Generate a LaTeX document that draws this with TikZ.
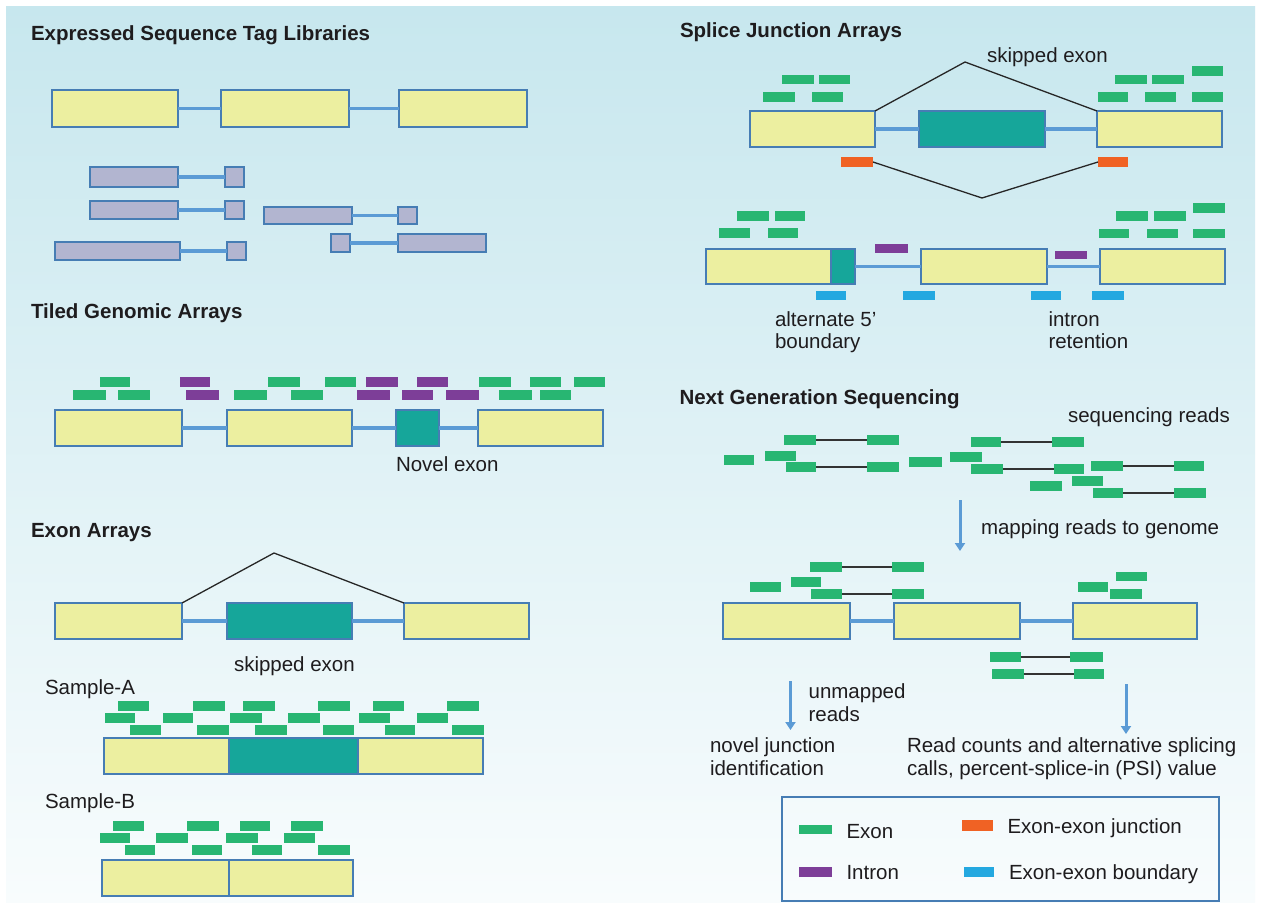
\documentclass[tikz,border=0pt]{standalone}
\usepackage{fontspec}
\setmainfont{Liberation Sans}
\usetikzlibrary{arrows.meta}
\definecolor{bgtop}{RGB}{199,231,238}
\definecolor{bgbot}{RGB}{248,252,253}
\definecolor{yel}{RGB}{236,239,160}
\definecolor{bord}{RGB}{70,125,180}
\definecolor{intr}{RGB}{91,155,213}
\definecolor{tealc}{RGB}{22,166,154}
\definecolor{grn}{RGB}{40,182,114}
\definecolor{pur}{RGB}{125,62,152}
\definecolor{org}{RGB}{240,98,36}
\definecolor{lblue}{RGB}{36,168,224}
\definecolor{lav}{RGB}{178,181,208}
\definecolor{txt}{RGB}{30,28,30}
\tikzset{
 every node/.style={inner sep=0pt, outer sep=0pt},
 exonY/.style={draw=bord, fill=yel, line width=2pt},
 exonT/.style={draw=bord, fill=tealc, line width=2pt},
 est/.style={draw=bord, fill=lav, line width=2pt},
 legbox/.style={draw=bord, line width=2pt},
 gr/.style={fill=grn},
 pu/.style={fill=pur},
 ora/.style={fill=org},
 lb/.style={fill=lblue},
 intron/.style={draw=intr, line width=3.5pt},
 skip/.style={draw=black!85, line width=1.3pt},
 pairline/.style={draw=black!80, line width=1.5pt},
 flow/.style={draw=intr, line width=3pt, -{Triangle[length=8pt,width=10pt]}},
 lbl/.style={anchor=base west, text=txt, font=\fontsize{20.5}{23}\selectfont},
 ttl/.style={anchor=base west, text=txt, font=\fontsize{20.5}{23}\selectfont\bfseries},
}
\newcommand\rb[6]{\node[#1,anchor=north west,minimum width={#5-#3},minimum height={#6-#4}] (#2) at (#3,#4) {};}
\begin{document}
\begin{tikzpicture}[x=1pt,y=-1pt]
\useasboundingbox (0,0) rectangle (1263,902);
\fill[white] (0,0) rectangle (1263,902);
\shade[top color=bgtop,bottom color=bgbot] (6,6) rectangle (1255,902);

% ---------- Expressed Sequence Tag Libraries
\node[ttl] (tEST) at (31,40.5) {Expressed Sequence Tag Libraries};
\rb{exonY}{e1}{52}{90}{178}{127}
\rb{exonY}{e2}{221}{90}{349}{127}
\rb{exonY}{e3}{399}{90}{527}{127}
\draw[intron] (e1.east) -- (e2.west);
\draw[intron] (e2.east) -- (e3.west);
\rb{est}{la1}{90}{167}{178}{187}
\rb{est}{la2}{225}{167}{244}{187}
\rb{est}{lb1}{90}{201}{178}{219}
\rb{est}{lb2}{225}{201}{244}{219}
\rb{est}{lc1}{264}{207}{352}{224}
\rb{est}{lc2}{398}{207}{417}{224}
\rb{est}{ld1}{55}{242}{180}{260}
\rb{est}{ld2}{227}{242}{246}{260}
\rb{est}{le1}{331}{234}{350}{252}
\rb{est}{le2}{398}{234}{486}{252}
\draw[intron] (la1.east) -- (la2.west);
\draw[intron] (lb1.east) -- (lb2.west);
\draw[intron] (lc1.east) -- (lc2.west);
\draw[intron] (ld1.east) -- (ld2.west);
\draw[intron] (le1.east) -- (le2.west);

% ---------- Tiled Genomic Arrays
\node[ttl] (tTGA) at (31,318.7) {Tiled Genomic Arrays};
\rb{gr}{ta1}{100}{377}{130}{387}
\rb{pu}{ta2}{180}{377}{210}{387}
\rb{gr}{ta3}{268}{377}{300}{387}
\rb{gr}{ta4}{325}{377}{356}{387}
\rb{pu}{ta5}{366}{377}{398}{387}
\rb{pu}{ta6}{417}{377}{448}{387}
\rb{gr}{ta7}{479}{377}{511}{387}
\rb{gr}{ta8}{530}{377}{561}{387}
\rb{gr}{ta9}{574}{377}{605}{387}
\rb{gr}{tb1}{73}{390}{106}{400}
\rb{gr}{tb2}{118}{390}{150}{400}
\rb{pu}{tb3}{186}{390}{219}{400}
\rb{gr}{tb4}{234}{390}{267}{400}
\rb{gr}{tb5}{291}{390}{323}{400}
\rb{pu}{tb6}{357}{390}{390}{400}
\rb{pu}{tb7}{402}{390}{433}{400}
\rb{pu}{tb8}{446}{390}{479}{400}
\rb{gr}{tb9}{499}{390}{532}{400}
\rb{gr}{tb10}{540}{390}{571}{400}
\rb{exonY}{t1}{55}{410}{182}{446}
\rb{exonY}{t2}{227}{410}{352}{446}
\rb{exonT}{t3}{396}{410}{439}{446}
\rb{exonY}{t4}{478}{410}{603}{446}
\draw[intron] (t1.east) -- (t2.west);
\draw[intron] (t2.east) -- (t3.west);
\draw[intron] (t3.east) -- (t4.west);
\node[lbl] (novel) at (396,471) {Novel exon};

% ---------- Exon Arrays
\node[ttl] (tEA) at (31,537) {Exon Arrays};
\rb{exonY}{x1}{55}{603}{182}{639}
\rb{exonT}{x2}{227}{603}{352}{639}
\rb{exonY}{x3}{404}{603}{529}{639}
\draw[intron] (x1.east) -- (x2.west);
\draw[intron] (x2.east) -- (x3.west);
\coordinate (xpk) at (274,553);
\draw[skip] (x1.north east) -- (xpk) -- (x3.north west);
\node[lbl] (skipA) at (234,671) {skipped exon};
\node[lbl] (sampA) at (45,694.5) {Sample-A};
\rb{gr}{sa1}{118}{701}{149}{711}
\rb{gr}{sa2}{193}{701}{225}{711}
\rb{gr}{sa3}{243}{701}{275}{711}
\rb{gr}{sa4}{318}{701}{350}{711}
\rb{gr}{sa5}{373}{701}{404}{711}
\rb{gr}{sa6}{447}{701}{479}{711}
\rb{gr}{sb1}{105}{713}{135}{723}
\rb{gr}{sb2}{163}{713}{193}{723}
\rb{gr}{sb3}{230}{713}{262}{723}
\rb{gr}{sb4}{288}{713}{320}{723}
\rb{gr}{sb5}{359}{713}{390}{723}
\rb{gr}{sb6}{417}{713}{448}{723}
\rb{gr}{sc1}{130}{725}{161}{735}
\rb{gr}{sc2}{197}{725}{229}{735}
\rb{gr}{sc3}{255}{725}{287}{735}
\rb{gr}{sc4}{323}{725}{354}{735}
\rb{gr}{sc5}{385}{725}{415}{735}
\rb{gr}{sc6}{452}{725}{484}{735}
\rb{exonY}{ya1}{104}{738}{229}{774}
\rb{exonT}{ya2}{229}{738}{358}{774}
\rb{exonY}{ya3}{358}{738}{483}{774}
\node[lbl] (sampB) at (45,808.5) {Sample-B};
\rb{gr}{ua1}{113}{821}{144}{831}
\rb{gr}{ua2}{187}{821}{219}{831}
\rb{gr}{ua3}{240}{821}{270}{831}
\rb{gr}{ua4}{291}{821}{323}{831}
\rb{gr}{ub1}{100}{833}{130}{843}
\rb{gr}{ub2}{156}{833}{188}{843}
\rb{gr}{ub3}{226}{833}{258}{843}
\rb{gr}{ub4}{284}{833}{315}{843}
\rb{gr}{uc1}{125}{845}{155}{855}
\rb{gr}{uc2}{192}{845}{222}{855}
\rb{gr}{uc3}{252}{845}{282}{855}
\rb{gr}{uc4}{318}{845}{350}{855}
\rb{exonY}{yb1}{102}{860}{229}{896}
\rb{exonY}{yb2}{229}{860}{353}{896}

% ---------- Splice Junction Arrays
\node[ttl] (tSJA) at (680,37.7) {Splice Junction Arrays};
\node[lbl] (skipS) at (987,62.5) {skipped exon};
\rb{gr}{pa1}{782}{75}{814}{84}
\rb{gr}{pa2}{819}{75}{850}{84}
\rb{gr}{pa3}{763}{92}{795}{102}
\rb{gr}{pa4}{812}{92}{843}{102}
\rb{gr}{pa5}{1192}{66}{1223}{76}
\rb{gr}{pa6}{1115}{75}{1147}{84}
\rb{gr}{pa7}{1152}{75}{1184}{84}
\rb{gr}{pa8}{1098}{92}{1128}{102}
\rb{gr}{pa9}{1145}{92}{1176}{102}
\rb{gr}{pa10}{1192}{92}{1223}{102}
\rb{exonY}{s1}{750}{111}{875}{147}
\rb{exonT}{s2}{919}{111}{1045}{147}
\rb{exonY}{s3}{1097}{111}{1222}{147}
\draw[intron] (s1.east) -- (s2.west);
\draw[intron] (s2.east) -- (s3.west);
\coordinate (spk) at (965,62);
\draw[skip] (s1.north east) -- (spk) -- (s3.north west);
\rb{ora}{o1}{841}{157}{873}{167}
\rb{ora}{o2}{1098}{157}{1128}{167}
\coordinate (sval) at (982,198);
\draw[skip] (o1.east) -- (sval) -- (o2.west);
\rb{gr}{pb1}{737}{211}{769}{221}
\rb{gr}{pb2}{775}{211}{805}{221}
\rb{gr}{pb3}{719}{228}{750}{238}
\rb{gr}{pb4}{768}{228}{798}{238}
\rb{gr}{pb5}{1193}{203}{1225}{213}
\rb{gr}{pb6}{1116}{211}{1148}{221}
\rb{gr}{pb7}{1154}{211}{1186}{221}
\rb{gr}{pb8}{1099}{229}{1129}{238}
\rb{gr}{pb9}{1147}{229}{1178}{238}
\rb{gr}{pb10}{1193}{229}{1225}{238}
\rb{exonY}{r1}{706}{249}{831}{284}
\rb{exonT}{r2}{831}{249}{855}{284}
\rb{exonY}{r3}{921}{249}{1047}{284}
\rb{exonY}{r4}{1100}{249}{1225}{284}
\draw[intron] (r2.east) -- (r3.west);
\draw[intron] (r3.east) -- (r4.west);
\rb{pu}{pi1}{875}{244}{908}{253}
\rb{pu}{pi2}{1055}{251}{1087}{259}
\rb{lb}{bd1}{816}{291}{846}{300}
\rb{lb}{bd2}{903}{291}{935}{300}
\rb{lb}{bd3}{1031}{291}{1061}{300}
\rb{lb}{bd4}{1092}{291}{1124}{300}
\node[lbl] (alt1) at (775,326) {alternate 5'};
\node[lbl] (alt2) at (775,348.5) {boundary};
\node[lbl] (ir1) at (1048.5,326) {intron};
\node[lbl] (ir2) at (1048.5,348.5) {retention};

% ---------- Next Generation Sequencing
\node[ttl] (tNGS) at (679.5,404) {Next Generation Sequencing};
\node[lbl] (seqr) at (1068,422) {sequencing reads};
\rb{gr}{q1}{783.5}{435}{816}{445}
\rb{gr}{q2}{866.6}{435}{898.6}{445}
\rb{gr}{q3}{971}{437}{1001}{447}
\rb{gr}{q4}{1052}{437}{1084}{447}
\rb{gr}{q5}{723.7}{455}{754}{465}
\rb{gr}{q6}{764.6}{451}{795.5}{461}
\rb{gr}{q7}{909.4}{457}{941.5}{467}
\rb{gr}{q8}{950}{452}{982.4}{462}
\rb{gr}{q9}{785.5}{462}{816.4}{472}
\rb{gr}{q10}{866.6}{462}{898.6}{472}
\rb{gr}{q11}{971}{464}{1003}{474}
\rb{gr}{q12}{1054}{464}{1084}{474}
\rb{gr}{q13}{1091}{461}{1123}{471}
\rb{gr}{q14}{1173.5}{461}{1203.6}{471}
\rb{gr}{q15}{1029.5}{481}{1061.5}{491}
\rb{gr}{q16}{1072}{476}{1103}{486}
\rb{gr}{q17}{1093}{488}{1123}{498}
\rb{gr}{q18}{1173.5}{488}{1206}{498}
\draw[pairline] (q1.east) -- (q2.west);
\draw[pairline] (q3.east) -- (q4.west);
\draw[pairline] (q9.east) -- (q10.west);
\draw[pairline] (q11.east) -- (q12.west);
\draw[pairline] (q13.east) -- (q14.west);
\draw[pairline] (q17.east) -- (q18.west);
\coordinate (f1s) at (960,500);
\coordinate (f1e) at (960,551);
\draw[flow] (f1s) -- (f1e);
\node[lbl] (mapg) at (981,534) {mapping reads to genome};
\rb{gr}{m1}{810}{562}{842}{572}
\rb{gr}{m2}{892}{562}{924}{572}
\rb{gr}{m3}{750}{582}{780.5}{592}
\rb{gr}{m4}{791}{577}{821.4}{587}
\rb{gr}{m5}{811}{589}{842}{599}
\rb{gr}{m6}{892}{589}{924}{599}
\rb{gr}{m7}{1115.6}{572}{1147}{581}
\rb{gr}{m8}{1078}{582}{1108}{592}
\rb{gr}{m9}{1110}{589}{1142}{599}
\draw[pairline] (m1.east) -- (m2.west);
\draw[pairline] (m5.east) -- (m6.west);
\rb{exonY}{n1}{722.5}{603}{850}{639}
\rb{exonY}{n2}{894}{603}{1020}{639}
\rb{exonY}{n3}{1072.5}{603}{1197}{639}
\draw[intron] (n1.east) -- (n2.west);
\draw[intron] (n2.east) -- (n3.west);
\rb{gr}{w1}{990}{652}{1020.6}{662}
\rb{gr}{w2}{1070}{652}{1102.5}{662}
\rb{gr}{w3}{992}{669}{1023.7}{679}
\rb{gr}{w4}{1074}{669}{1104.4}{679}
\draw[pairline] (w1.east) -- (w2.west);
\draw[pairline] (w3.east) -- (w4.west);
\coordinate (f2s) at (790.5,681);
\coordinate (f2e) at (790.5,730);
\draw[flow] (f2s) -- (f2e);
\coordinate (f3s) at (1126,684);
\coordinate (f3e) at (1126,734);
\draw[flow] (f3s) -- (f3e);
\node[lbl] (unm1) at (808.6,698.5) {unmapped};
\node[lbl] (unm2) at (808.6,721.5) {reads};
\node[lbl] (nj1) at (710,752) {novel junction};
\node[lbl] (nj2) at (710,775.5) {identification};
\node[lbl] (rc1) at (907,752) {Read counts and alternative splicing};
\node[lbl] (rc2) at (907,775.5) {calls, percent-splice-in (PSI) value};

% ---------- Legend
\rb{legbox}{leg}{782}{797}{1219}{901}
\rb{gr}{kg}{799}{825}{832}{834}
\node[lbl] (kgt) at (846.5,838) {Exon};
\rb{ora}{ko}{962}{820}{993}{831}
\node[lbl] (kot) at (1007.5,833) {Exon-exon junction};
\rb{pu}{kp}{799}{867}{832}{877}
\node[lbl] (kpt) at (846.5,879.7) {Intron};
\rb{lb}{kb}{964}{867}{994}{877}
\node[lbl] (kbt) at (1009,879.7) {Exon-exon boundary};
\end{tikzpicture}
\end{document}
